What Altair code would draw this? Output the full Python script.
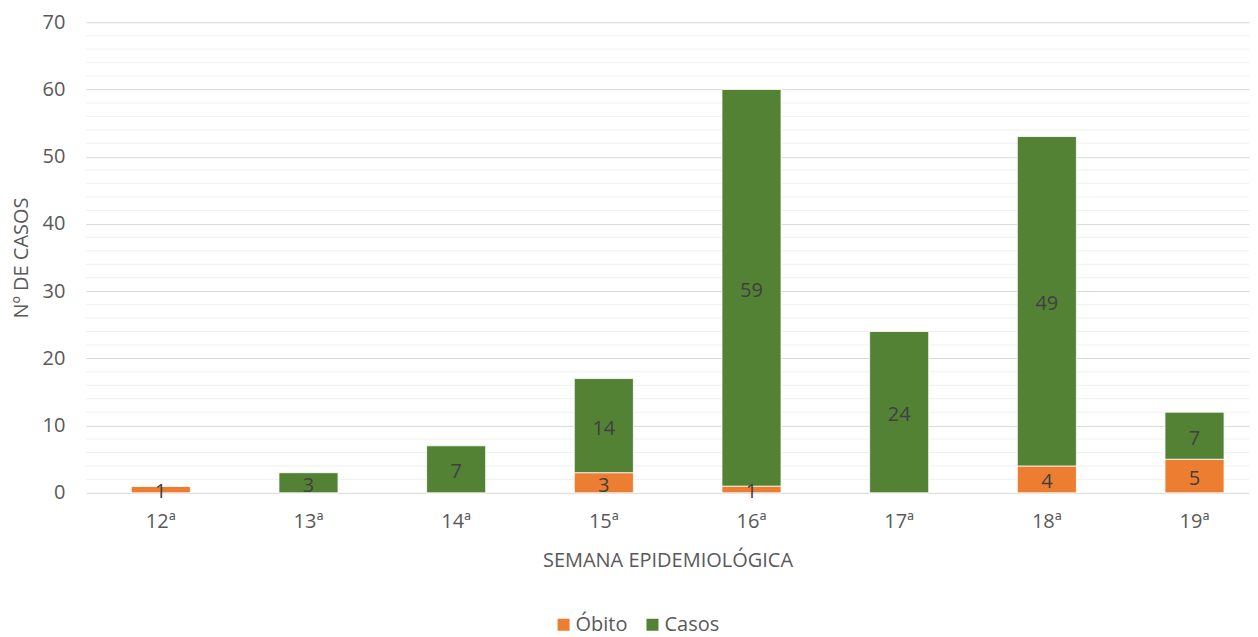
import altair as alt
import pandas as pd

weeks = ["12ª", "13ª", "14ª", "15ª", "16ª", "17ª", "18ª", "19ª"]
obito = [1, 0, 0, 3, 1, 0, 4, 5]
casos = [0, 3, 7, 14, 59, 24, 49, 7]
series = ["Óbito", "Casos"]
colors = ["#ED7D31", "#548235"]
major_ticks = [0, 10, 20, 30, 40, 50, 60, 70]
minor_ticks = [v for v in range(0, 71, 2) if v % 10 != 0]

rows = []
for i, w in enumerate(weeks):
    rows.append({"week": w, "series": "Óbito", "ord": 0, "value": obito[i]})
    rows.append({"week": w, "series": "Casos", "ord": 1, "value": casos[i]})
df = pd.DataFrame(rows)
minor_df = pd.DataFrame({"v": minor_ticks})

FONT = "Open Sans"
FS = 20

x_enc = alt.X(
    "week:N",
    sort=weeks,
    title="SEMANA EPIDEMIOLÓGICA",
    scale=alt.Scale(paddingInner=0.6, paddingOuter=0.238, align=0.645),
    axis=alt.Axis(labelAngle=0, ticks=False, domain=False, labelPadding=19,
                  titlePadding=19, labelFontSize=FS, titleFontSize=FS,
                  labelColor="#595959", titleColor="#595959",
                  labelFont=FONT, titleFont=FONT, titleFontWeight="normal"),
)
y_scale = alt.Scale(domain=[0, 70], nice=False)

minor = alt.Chart(minor_df).mark_rule(color="#f0f0f0", strokeWidth=1).encode(
    y=alt.Y("v:Q", scale=y_scale)
)

base = alt.Chart(df).transform_stack(
    stack="value", groupby=["week"], as_=["y0", "y1"],
    sort=[alt.SortField("ord", order="ascending")]
).transform_calculate(mid="(datum.y0 + datum.y1) / 2")

bars = base.mark_bar(stroke="white", strokeWidth=0.8).encode(
    x=x_enc,
    y=alt.Y("y0:Q", scale=y_scale, title="Nº DE CASOS",
            axis=alt.Axis(values=major_ticks, ticks=False, domain=False,
                          gridColor="#d9d9d9", labelPadding=21, titlePadding=11,
                          labelFontSize=FS, titleFontSize=FS,
                          labelColor="#595959", titleColor="#595959",
                          labelFont=FONT, titleFont=FONT,
                          titleFontWeight="normal")),
    y2="y1:Q",
    color=alt.Color("series:N", scale=alt.Scale(domain=series, range=colors),
                    sort=series,
                    legend=alt.Legend(title=None, orient="none", direction="horizontal",
                                      legendX=468, legendY=593,
                                      symbolType="square", symbolSize=144,
                                      symbolStrokeWidth=0, labelOffset=2,
                                      labelFontSize=FS, labelColor="#595959",
                                      labelFont=FONT, columnPadding=14)),
)

labels = base.transform_filter("datum.value > 0").mark_text(
    fontSize=FS, color="#404040", font=FONT, baseline="middle", dy=3
).encode(
    x=alt.X("week:N", sort=weeks),
    y=alt.Y("mid:Q", scale=y_scale),
    text="value:Q",
)

chart = alt.layer(minor, bars, labels).properties(
    width=1164, height=471,
    padding={"top": 4, "left": 3, "right": 0, "bottom": 8},
).configure_view(stroke=None)

chart.save("out.html", embed_options={"renderer": "svg", "actions": False})
